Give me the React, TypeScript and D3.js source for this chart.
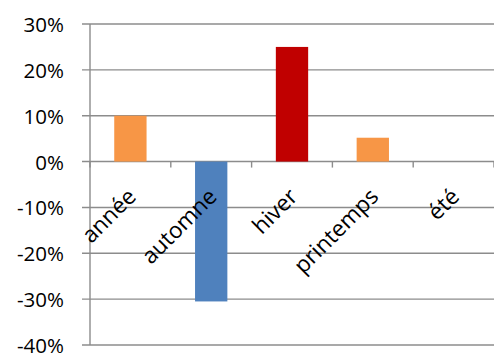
import React from "react";
import * as d3 from "d3";

const categories = ["année", "automne", "hiver", "printemps", "été"];
const values = [0.10, -0.305, 0.25, 0.052, 0];
const barColors = ["#F79646", "#4F81BD", "#C00000", "#F79646", "#F79646"];
const yTicks = [0.3, 0.2, 0.1, 0, -0.1, -0.2, -0.3, -0.4];

const W = 494;
const H = 353;

export default function App() {
  const y = d3.scaleLinear().domain([-0.4, 0.3]).range([345, 24]);
  const x = d3
    .scaleBand<string>()
    .domain(categories)
    .range([90, 494])
    .paddingInner(0.6)
    .paddingOuter(0.3);
  const pct = d3.format(".0%");
  const fmt = (t: number) => pct(t).replace("\u2212", "-");
  const step = x.step();
  const font = "'Open Sans', sans-serif";
  const grid = "#8c8c8c";
  const y0 = y(0);

  return (
    <svg
      width={W}
      height={H}
      style={{ position: "absolute", left: 0, top: 0, background: "#fff" }}
    >
      {yTicks.map((t) => (
        <g key={t}>
          <line x1={82} x2={494} y1={y(t)} y2={y(t)} stroke={grid} strokeWidth={1.4} />
          <text
            x={64}
            y={y(t)}
            textAnchor="end"
            dominantBaseline="central"
            fontFamily={font}
            fontSize={20.5}
            fill="#000"
          >
            {fmt(t)}
          </text>
        </g>
      ))}
      <line x1={90} x2={90} y1={y(0.3)} y2={y(-0.4)} stroke={grid} strokeWidth={1.4} />
      {categories.map((c, i) => {
        const x0 = 90 + i * step;
        return (
          <line key={"t" + c} x1={x0} x2={x0} y1={y0} y2={y0 + 6} stroke={grid} strokeWidth={1.4} />
        );
      })}
      <line x1={494} x2={494} y1={y0} y2={y0 + 6} stroke={grid} strokeWidth={1.4} />
      {categories.map((c, i) => {
        const v = values[i];
        const top = Math.min(y(v), y0);
        const h = Math.abs(y(v) - y0);
        return (
          <rect key={"b" + c} x={x(c)} y={top} width={x.bandwidth()} height={h} fill={barColors[i]} />
        );
      })}
      {categories.map((c) => {
        const cx = (x(c) as number) + x.bandwidth() / 2;
        return (
          <text
            key={"l" + c}
            transform={`translate(${cx + 7},${198}) rotate(-45)`}
            textAnchor="end"
            fontFamily={font}
            fontSize={22.5}
            fill="#000"
          >
            {c}
          </text>
        );
      })}
    </svg>
  );
}
